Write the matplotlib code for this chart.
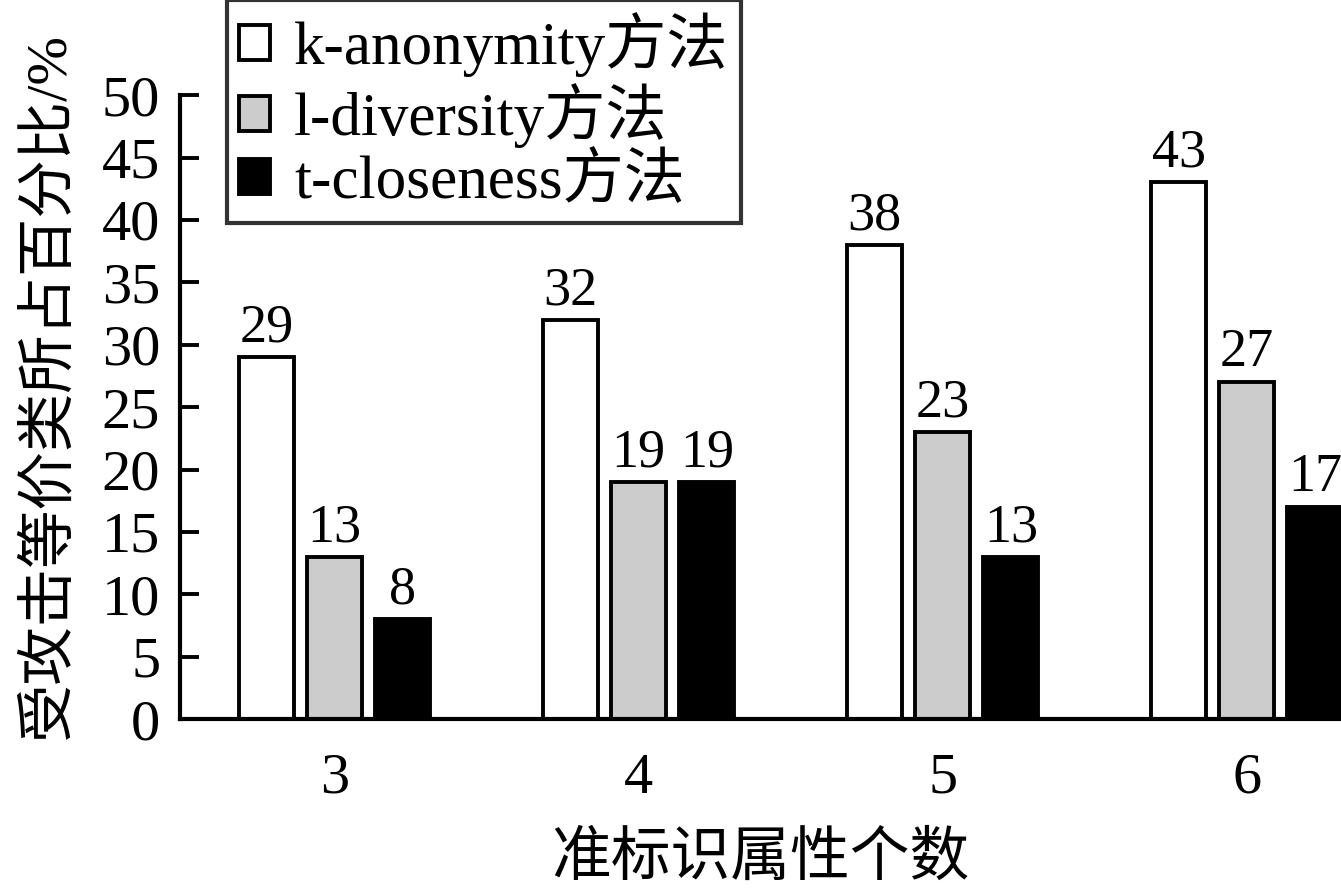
import numpy as np
import matplotlib
matplotlib.use('Agg')
import matplotlib.pyplot as plt

plt.rcParams['font.family'] = ['Liberation Serif', 'Noto Sans CJK SC']

# data
groups = ['3', '4', '5', '6']
methods = ['k-anonymity方法', 'l-diversity方法', 't-closeness方法']
k_anon = [29, 32, 38, 43]
l_div = [13, 19, 23, 27]
t_close = [8, 19, 13, 17]
colors = ['white', '#cccccc', 'black']

fig = plt.figure(figsize=(13.41, 8.89), dpi=100)
ax = fig.add_axes([0.134, 0.191, 0.866, 0.702])

x = np.arange(len(groups))
w = 0.18
step = 0.224
series = [k_anon, l_div, t_close]
for i, (vals, c, name) in enumerate(zip(series, colors, methods)):
    bars = ax.bar(x + (i - 1) * step, vals, width=w, color=c,
                  edgecolor='black', linewidth=2.8, label=name)
    for b, v in zip(bars, vals):
        ax.text(b.get_x() + b.get_width() / 2, v + 0.3, str(v),
                ha='center', va='bottom', fontsize=39)

ax.set_xlim(-0.51, 3.31)
ax.set_ylim(0, 50)
ax.set_yticks(range(0, 51, 5))
ax.set_xticks(x)
ax.set_xticklabels(groups)
ax.tick_params(axis='y', direction='in', length=14, width=2.8,
               labelsize=42, pad=14)
ax.tick_params(axis='x', length=0, labelsize=42, pad=24)
for s in ['top', 'right']:
    ax.spines[s].set_visible(False)
for s in ['left', 'bottom']:
    ax.spines[s].set_linewidth(3)

ax.set_xlabel('准标识属性个数', fontsize=43, labelpad=20)
ax.set_ylabel('受攻击等价类所占百分比/%', fontsize=42)
ax.yaxis.set_label_coords(-0.09, 0.535)

leg = fig.legend(loc='upper left', bbox_to_anchor=(227 / 1341, 1.0),
                 fontsize=44, frameon=True, fancybox=False,
                 handlelength=0.5, handleheight=0.5, handletextpad=0.4,
                 labelspacing=0.1, borderpad=0.2, borderaxespad=0)
leg.get_frame().set_edgecolor('black')
leg.get_frame().set_linewidth(3)

fig.savefig('out.png', dpi=100)
